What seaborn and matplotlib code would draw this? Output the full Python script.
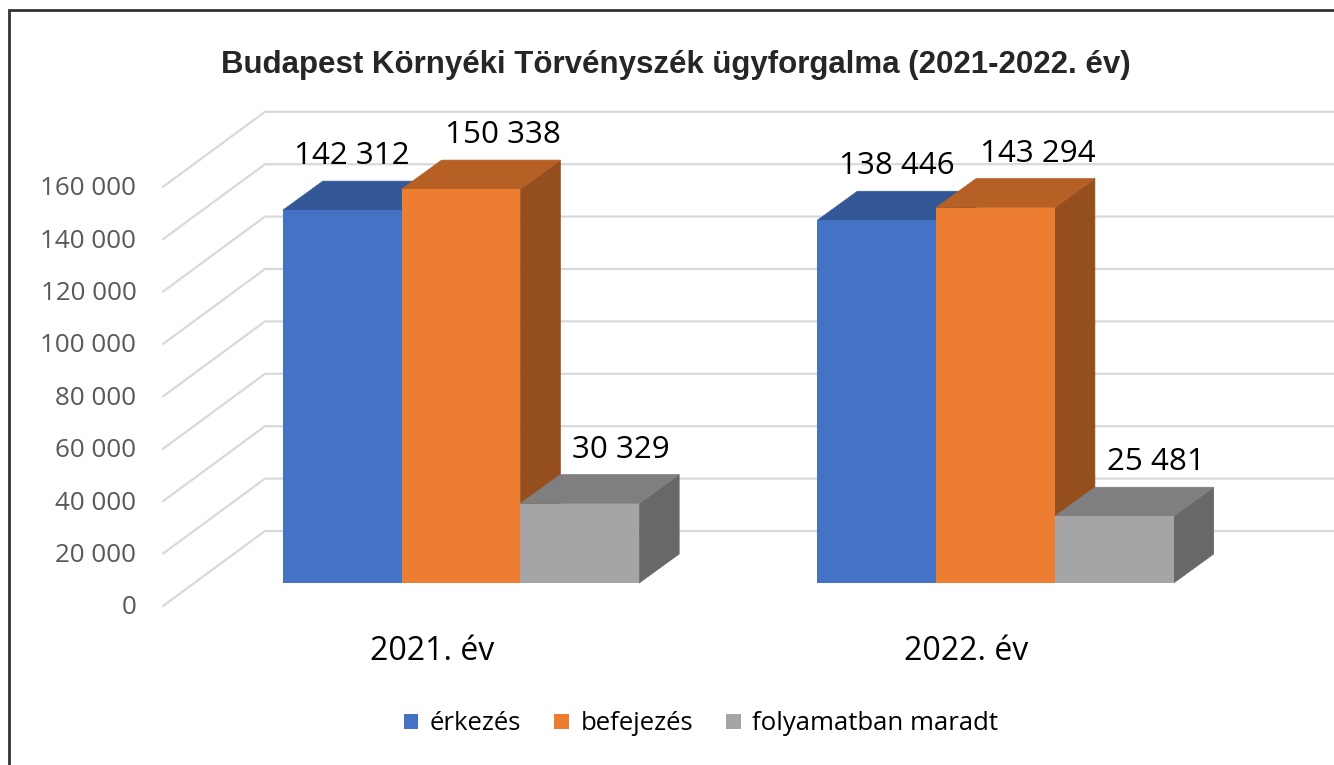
import matplotlib
matplotlib.use("Agg")
import matplotlib.pyplot as plt
from matplotlib.lines import Line2D
from matplotlib.patches import Polygon
import numpy as np
import pandas as pd
import seaborn as sns

# Data
years = ["2021. év", "2022. év"]
series = ["érkezés", "befejezés", "folyamatban maradt"]
erkezes = [142312, 138446]
befejezes = [150338, 143294]
folyamatban = [30329, 25481]
value_ticks = [0, 20000, 40000, 60000, 80000, 100000, 120000, 140000, 160000]
colors = ["#4472C4", "#ED7D31", "#A5A5A5"]

df = pd.DataFrame({
    "year": years * 3,
    "series": [s for s in series for _ in years],
    "value": erkezes + befejezes + folyamatban,
})


def fmt(v):
    return f"{v:,}".replace(",", " ")


def shade(color, k):
    return tuple(c * k for c in matplotlib.colors.to_rgb(color))


sns.set_theme(style="white")
plt.rcParams["font.family"] = ["Open Sans", "DejaVu Sans"]

W, H = 1334, 765
fig = plt.figure(figsize=(W / 100, H / 100), dpi=100, facecolor="white")
ax = fig.add_axes([0, 0, 1, 1])

# Scale of the front plane: pixels per category and per case
cat_px = 534.5
val_px = 0.00262
x0_px = 461
base_px = 583

sns.barplot(data=df, x="year", y="value", hue="series", hue_order=series,
            palette=colors, width=2 / 3, gap=0, saturation=1, linewidth=0, ax=ax)
ax.set_xlim((0 - x0_px) / cat_px, (W - x0_px) / cat_px)
ax.set_ylim((base_px - H) / val_px, base_px / val_px)
ax.axis("off")

# Depth of one bar, in data units
depth_x = 40 / cat_px
depth_y = 29 / val_px

# Gridlines on the side and back wall
back_shift = (base_px - 531) / val_px
front_shift = (606 - base_px) / val_px
left_front = (163 - x0_px) / cat_px
left_back = (265 - x0_px) / cat_px
right_edge = (W - x0_px) / cat_px
text_drop = 2 / val_px
for v in value_ticks:
    ax.plot([left_front, left_back, right_edge],
            [v - front_shift, v + back_shift, v + back_shift],
            color="#D9D9D9", lw=1.6, zorder=1, solid_joinstyle="miter")
    ax.text(left_front - 26.5 / cat_px, v - front_shift - text_drop, fmt(v), ha="right", va="center",
            fontsize=18.7, color="#595959")

# 3D faces of the bars, and the value labels
label_dx = [[10, 20], [42, 42], [41, 42]]
for h, cont in enumerate(ax.containers):
    col = colors[h]
    for i, bar in enumerate(cont):
        x, w, top = bar.get_x(), bar.get_width(), bar.get_height()
        z = 3 + 3 * h
        side = Polygon([(x + w, 0), (x + w, top), (x + w + depth_x, top + depth_y),
                        (x + w + depth_x, depth_y)],
                       fc=shade(col, 0.63), ec=shade(col, 0.63), lw=0.5, zorder=z)
        cap = Polygon([(x, top), (x + w, top), (x + w + depth_x, top + depth_y),
                       (x + depth_x, top + depth_y)],
                      fc=shade(col, 0.77), ec=shade(col, 0.77), lw=0.5, zorder=z + 1)
        ax.add_patch(side)
        ax.add_patch(cap)
        bar.set_zorder(z + 2)
        ax.text(x + w / 2 + label_dx[h][i] / cat_px, top + 56 / val_px - text_drop, fmt(int(top)),
                ha="center", va="center", fontsize=22.6, color="black", zorder=20)

# Category labels sit left of the bar groups
for i, name in enumerate(years):
    ax.text(i - 29 / cat_px, (base_px - 652) / val_px, name, ha="center", va="center",
            fontsize=23, color="black")

ax.text((676 - x0_px) / cat_px, (base_px - 65) / val_px,
        "Budapest Környéki Törvényszék ügyforgalma (2021-2022. év)",
        ha="center", va="center", fontsize=22.5, fontweight="bold",
        family="Liberation Sans", color="#262626")

sns.move_legend(ax, "center", bbox_to_anchor=(701 / W, 1 - 724 / H), ncol=3, frameon=False,
                title=None, fontsize=18.5, handlelength=0.56, handleheight=0.56,
                handletextpad=0.45, columnspacing=1.3, labelcolor="black")

# Frame of the pasted chart
fig.add_artist(Line2D([8.5 / W, 8.5 / W, 1], [0, 1 - 10 / H, 1 - 10 / H],
                      transform=fig.transFigure, color="#333333", lw=2,
                      solid_joinstyle="miter"))

plt.savefig("out.png", dpi=100)
